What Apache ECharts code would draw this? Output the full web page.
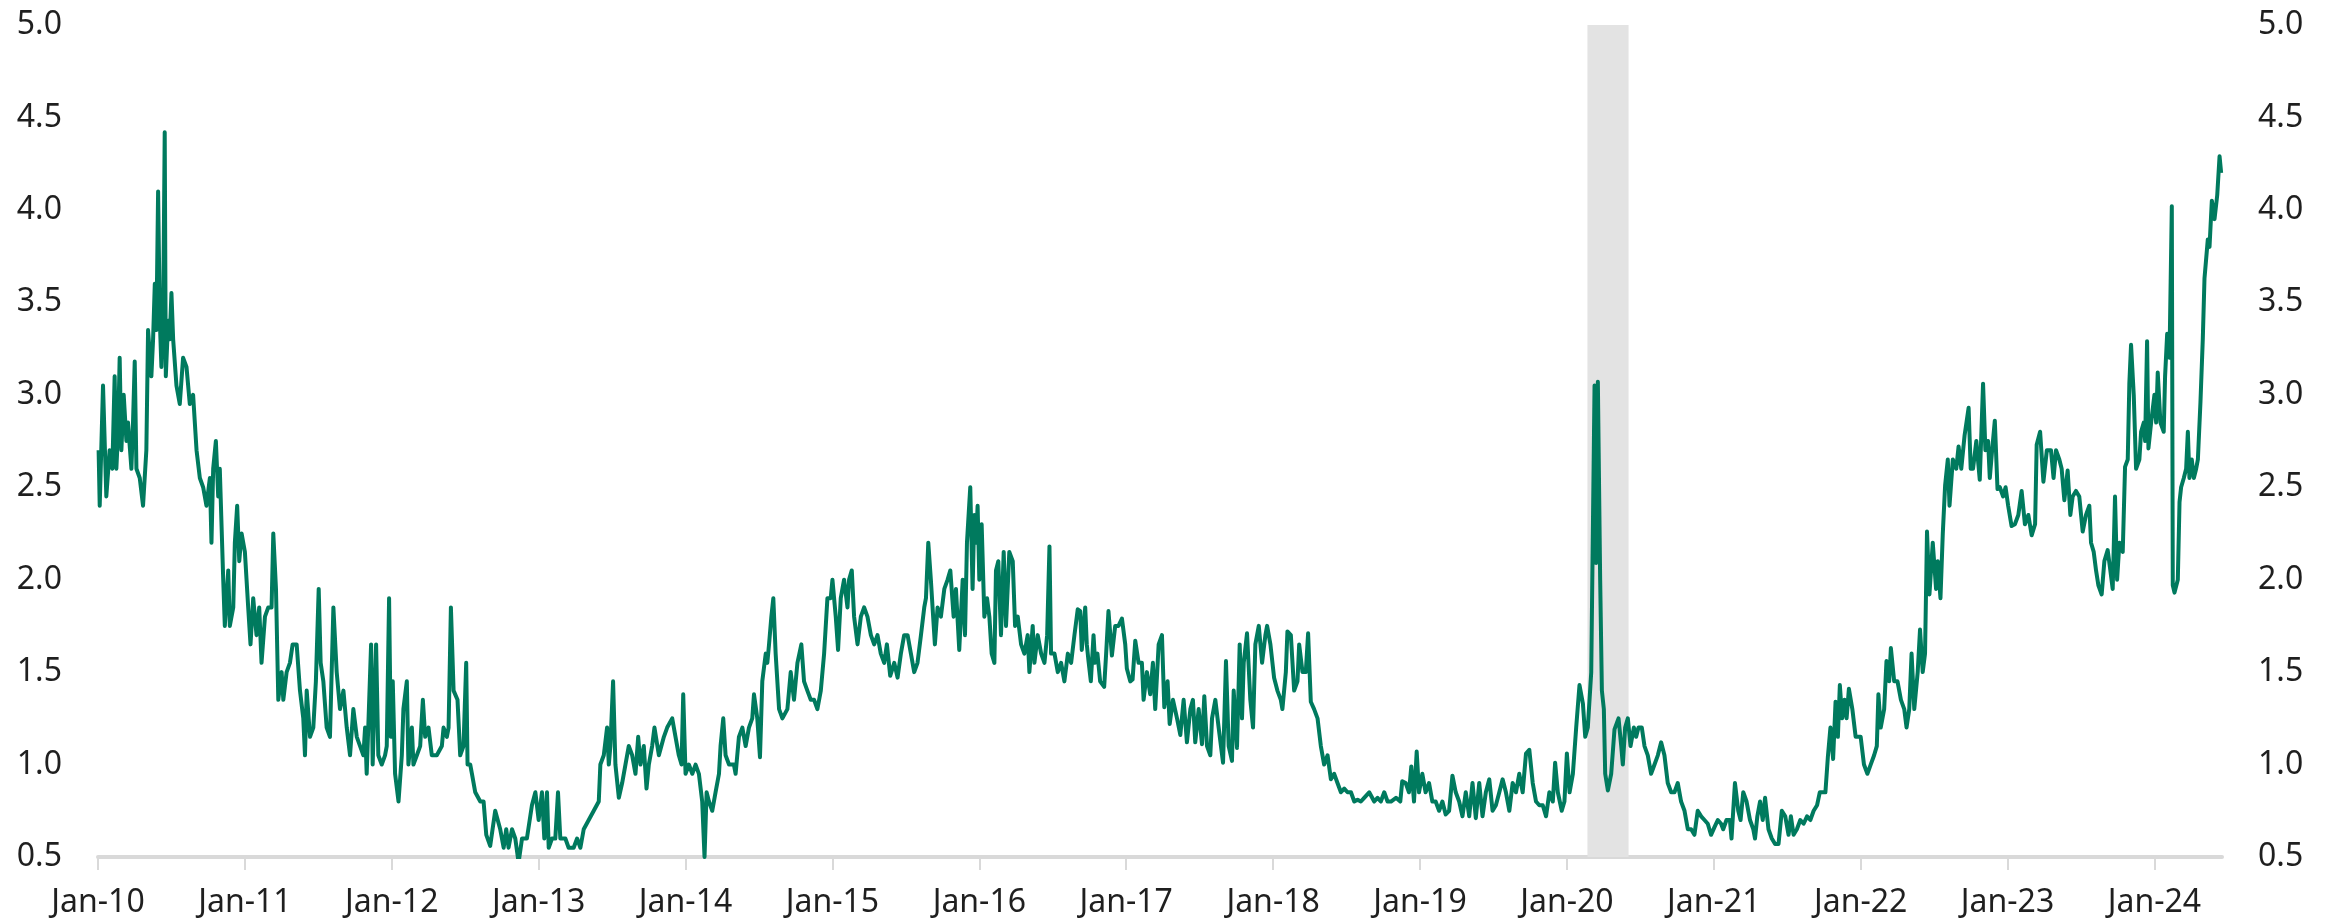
<!DOCTYPE html>
<html>
<head>
<meta charset="utf-8">
<script src="https://cdn.jsdelivr.net/npm/echarts@6/dist/echarts.min.js"></script>
<style>
  html, body { margin: 0; padding: 0; background: #fff; }
  #chart { width: 2331px; height: 923px; }
</style>
</head>
<body>
<div id="chart"></div>
<script>
// x ticks: one per January
const yearTicks = [2010, 2011, 2012, 2013, 2014, 2015, 2016, 2017, 2018, 2019, 2020, 2021, 2022, 2023, 2024];
const yTicks = [0.5, 1.0, 1.5, 2.0, 2.5, 3.0, 3.5, 4.0, 4.5, 5.0];
// shaded period (decimal years)
const recession = [2020.14, 2020.42];

// readings per year as [month offset from January, value]
const d2010 = [[0.05,2.7],[0.14,2.4],[0.41,3.05],[0.68,2.45],[0.95,2.7],[1.17,2.6],[1.36,3.1],[1.5,2.6],[1.64,2.8],[1.77,3.2],[1.91,2.7],[2.1,3.0],[2.32,2.75],[2.45,2.85],[2.73,2.6],[2.86,2.85],[3.0,3.18],[3.14,2.6],[3.41,2.55],[3.68,2.4],[3.95,2.7],[4.09,3.35],[4.36,3.1],[4.5,3.3],[4.64,3.6],[4.77,3.35],[4.91,4.1],[5.05,3.4],[5.18,3.15],[5.32,3.4],[5.45,4.42],[5.54,3.1],[5.73,3.4],[5.86,3.3],[6.0,3.55],[6.14,3.3],[6.41,3.05],[6.68,2.95],[6.95,3.2],[7.23,3.15],[7.5,2.95],[7.77,3.0],[8.05,2.7],[8.32,2.55],[8.59,2.5],[8.86,2.4],[9.14,2.55],[9.27,2.2],[9.41,2.6],[9.63,2.75],[9.82,2.45],[9.95,2.6],[10.23,2.0],[10.36,1.75],[10.64,2.05],[10.77,1.75],[11.05,1.85],[11.18,2.2],[11.37,2.4],[11.54,2.1],[11.73,2.25]];
const d2011 = [[0.0,2.15],[0.27,1.85],[0.46,1.65],[0.68,1.9],[0.95,1.7],[1.17,1.85],[1.36,1.55],[1.64,1.8],[1.91,1.85],[2.18,1.85],[2.32,2.25],[2.54,1.95],[2.73,1.35],[3.0,1.5],[3.14,1.35],[3.41,1.5],[3.68,1.55],[3.9,1.65],[4.23,1.65],[4.5,1.4],[4.77,1.25],[4.91,1.05],[5.05,1.4],[5.32,1.15],[5.59,1.2],[5.8,1.45],[6.03,1.95],[6.19,1.55],[6.41,1.45],[6.68,1.2],[6.95,1.15],[7.23,1.85],[7.5,1.5],[7.77,1.3],[8.05,1.4],[8.32,1.2],[8.59,1.05],[8.86,1.3],[9.14,1.15],[9.41,1.1],[9.68,1.05],[9.82,1.2],[9.95,0.95],[10.31,1.65],[10.44,1.0],[10.72,1.65],[10.9,1.05],[11.18,1.0],[11.45,1.05],[11.59,1.1],[11.78,1.9],[11.92,1.15]];
const d2012 = [[0.08,1.45],[0.27,0.95],[0.55,0.8],[0.82,1.05],[0.95,1.3],[1.23,1.45],[1.36,1.0],[1.64,1.2],[1.77,1.0],[2.05,1.05],[2.32,1.1],[2.54,1.35],[2.73,1.15],[3.0,1.2],[3.27,1.05],[3.68,1.05],[4.09,1.1],[4.23,1.2],[4.5,1.15],[4.64,1.2],[4.83,1.85],[5.05,1.4],[5.37,1.35],[5.59,1.05],[5.86,1.1],[6.08,1.55],[6.19,1.0],[6.41,1.0],[6.55,0.95],[6.82,0.85],[7.23,0.8],[7.5,0.8],[7.72,0.62],[8.04,0.56],[8.45,0.75],[8.86,0.65],[9.14,0.55],[9.35,0.65],[9.54,0.55],[9.82,0.65],[10.09,0.6],[10.36,0.47],[10.64,0.6],[11.04,0.6],[11.45,0.78],[11.73,0.85]];
const d2013 = [[0.0,0.7],[0.27,0.85],[0.46,0.6],[0.68,0.85],[0.82,0.55],[1.09,0.6],[1.36,0.6],[1.58,0.85],[1.77,0.6],[2.18,0.6],[2.45,0.55],[2.86,0.55],[3.14,0.6],[3.41,0.55],[3.68,0.65],[4.09,0.7],[4.5,0.75],[4.91,0.8],[5.04,1.0],[5.32,1.05],[5.59,1.2],[5.73,1.0],[5.86,1.1],[6.08,1.45],[6.27,1.0],[6.55,0.82],[6.82,0.9],[7.09,1.0],[7.36,1.1],[7.64,1.05],[7.91,0.95],[8.13,1.15],[8.32,1.0],[8.59,1.1],[8.81,0.87],[9.0,1.0],[9.27,1.1],[9.46,1.2],[9.82,1.05],[10.23,1.15],[10.5,1.2],[10.91,1.25],[11.18,1.15],[11.45,1.05],[11.67,1.0],[11.81,1.38]];
const d2014 = [[0.0,0.95],[0.27,1.0],[0.55,0.95],[0.82,1.0],[1.09,0.95],[1.36,0.8],[1.55,0.5],[1.72,0.85],[1.91,0.8],[2.18,0.75],[2.45,0.85],[2.73,0.95],[2.86,1.1],[3.08,1.25],[3.27,1.05],[3.55,1.0],[3.95,1.0],[4.09,0.95],[4.36,1.15],[4.64,1.2],[4.91,1.1],[5.18,1.2],[5.45,1.25],[5.59,1.38],[5.86,1.25],[6.08,1.04],[6.27,1.45],[6.55,1.6],[6.68,1.55],[6.82,1.65],[7.01,1.8],[7.17,1.9],[7.36,1.6],[7.64,1.3],[7.91,1.25],[8.32,1.3],[8.59,1.5],[8.86,1.35],[9.14,1.55],[9.46,1.65],[9.68,1.45],[9.95,1.4],[10.23,1.35],[10.5,1.35],[10.77,1.3],[11.05,1.4],[11.32,1.6],[11.59,1.9],[11.86,1.9]];
const d2015 = [[0.0,2.0],[0.27,1.8],[0.46,1.62],[0.68,1.9],[0.95,2.0],[1.23,1.85],[1.36,2.0],[1.58,2.05],[1.77,1.8],[2.05,1.65],[2.32,1.8],[2.59,1.85],[2.86,1.8],[3.14,1.7],[3.41,1.65],[3.68,1.7],[3.95,1.6],[4.23,1.55],[4.45,1.65],[4.72,1.48],[5.05,1.55],[5.32,1.47],[5.59,1.6],[5.86,1.7],[6.14,1.7],[6.41,1.6],[6.68,1.5],[6.95,1.55],[7.23,1.7],[7.5,1.85],[7.64,1.9],[7.83,2.2],[8.04,2.0],[8.18,1.85],[8.37,1.65],[8.59,1.85],[8.86,1.8],[9.14,1.95],[9.41,2.0],[9.63,2.05],[9.9,1.8],[10.09,1.95],[10.36,1.62],[10.64,2.0],[10.83,1.7],[10.99,2.2],[11.26,2.5],[11.45,1.95],[11.59,2.35],[11.73,2.2],[11.86,2.4]];
const d2016 = [[0.0,2.0],[0.19,2.3],[0.41,1.8],[0.63,1.9],[0.82,1.8],[1.01,1.6],[1.23,1.55],[1.36,2.05],[1.55,2.1],[1.77,1.7],[1.99,2.15],[2.18,1.75],[2.45,2.15],[2.73,2.1],[2.92,1.75],[3.14,1.8],[3.41,1.65],[3.68,1.6],[3.95,1.7],[4.09,1.5],[4.36,1.75],[4.5,1.55],[4.77,1.7],[5.05,1.6],[5.32,1.55],[5.54,1.7],[5.73,2.18],[5.86,1.6],[6.14,1.6],[6.41,1.5],[6.68,1.55],[6.95,1.45],[7.23,1.6],[7.5,1.55],[7.77,1.7],[8.04,1.84],[8.24,1.83],[8.37,1.62],[8.65,1.85],[8.78,1.65],[8.92,1.56],[9.11,1.45],[9.33,1.7],[9.46,1.55],[9.65,1.6],[9.87,1.45],[10.2,1.42],[10.36,1.6],[10.55,1.83],[10.83,1.59],[11.1,1.75],[11.37,1.75],[11.65,1.79],[11.92,1.65]];
const d2017 = [[0.05,1.52],[0.33,1.45],[0.52,1.46],[0.74,1.67],[1.01,1.55],[1.28,1.55],[1.42,1.35],[1.69,1.5],[1.96,1.38],[2.18,1.55],[2.37,1.3],[2.65,1.65],[2.92,1.7],[3.11,1.31],[3.38,1.45],[3.55,1.22],[3.82,1.35],[4.15,1.25],[4.42,1.16],[4.69,1.35],[4.96,1.12],[5.24,1.3],[5.45,1.35],[5.64,1.12],[5.92,1.3],[6.19,1.11],[6.38,1.37],[6.6,1.1],[6.87,1.05],[7.01,1.25],[7.28,1.35],[7.55,1.2],[7.91,1.01],[8.15,1.56],[8.37,1.1],[8.64,1.02],[8.78,1.4],[9.05,1.09],[9.27,1.65],[9.46,1.25],[9.6,1.55],[9.87,1.71],[10.14,1.35],[10.36,1.2],[10.55,1.65],[10.83,1.75],[11.1,1.55],[11.37,1.7],[11.51,1.75],[11.78,1.65]];
const d2018 = [[0.08,1.47],[0.35,1.4],[0.63,1.35],[0.76,1.3],[1.04,1.5],[1.17,1.72],[1.45,1.7],[1.72,1.4],[1.99,1.45],[2.13,1.65],[2.4,1.5],[2.67,1.5],[2.86,1.71],[3.08,1.34],[3.35,1.3],[3.63,1.25],[3.9,1.1],[4.17,1.0],[4.45,1.05],[4.72,0.92],[4.99,0.95],[5.26,0.9],[5.54,0.85],[5.81,0.87],[6.08,0.85],[6.36,0.85],[6.63,0.8],[6.9,0.81],[7.17,0.8],[7.44,0.82],[7.85,0.85],[8.26,0.8],[8.53,0.82],[8.8,0.8],[9.08,0.85],[9.35,0.8],[9.63,0.8],[10.04,0.82],[10.39,0.8],[10.55,0.91],[10.83,0.9],[11.1,0.85],[11.29,0.99],[11.51,0.8],[11.73,1.07],[11.92,0.85]];
const d2019 = [[0.19,0.95],[0.46,0.85],[0.74,0.9],[1.01,0.8],[1.28,0.8],[1.56,0.75],[1.83,0.8],[2.1,0.73],[2.38,0.75],[2.65,0.94],[2.92,0.85],[3.2,0.8],[3.47,0.72],[3.74,0.85],[4.02,0.72],[4.29,0.9],[4.56,0.71],[4.84,0.9],[5.11,0.72],[5.38,0.85],[5.66,0.92],[5.93,0.75],[6.2,0.78],[6.48,0.85],[6.75,0.92],[7.02,0.85],[7.3,0.75],[7.57,0.9],[7.84,0.85],[8.11,0.95],[8.39,0.85],[8.66,1.06],[8.93,1.08],[9.21,0.9],[9.48,0.8],[9.75,0.78],[10.03,0.78],[10.3,0.72],[10.57,0.85],[10.85,0.8],[11.04,1.01],[11.26,0.85],[11.58,0.75],[11.8,0.8]];
const d2020 = [[0.0,1.06],[0.22,0.85],[0.49,0.95],[0.76,1.2],[1.03,1.43],[1.31,1.33],[1.5,1.15],[1.71,1.2],[1.99,1.5],[2.12,1.5],[2.26,3.05],[2.39,2.09],[2.53,3.07],[2.72,2.0],[2.86,1.4],[3.02,1.3],[3.13,0.95],[3.35,0.86],[3.62,0.95],[3.89,1.19],[4.03,1.2],[4.22,1.25],[4.44,1.1],[4.57,1.0],[4.76,1.2],[4.98,1.25],[5.2,1.1],[5.47,1.2],[5.66,1.15],[5.85,1.2],[6.12,1.2],[6.34,1.1],[6.61,1.05],[6.88,0.95],[7.16,1.0],[7.43,1.05],[7.7,1.12],[7.97,1.05],[8.24,0.9],[8.52,0.85],[8.79,0.85],[9.06,0.9],[9.33,0.8],[9.61,0.75],[9.88,0.65],[10.15,0.65],[10.42,0.62],[10.69,0.75],[10.97,0.72],[11.24,0.7],[11.51,0.68],[11.78,0.62]];
const d2021 = [[0.05,0.66],[0.33,0.7],[0.6,0.68],[0.77,0.65],[1.04,0.7],[1.32,0.7],[1.45,0.6],[1.73,0.9],[2.0,0.75],[2.19,0.7],[2.41,0.85],[2.68,0.8],[2.96,0.7],[3.23,0.65],[3.37,0.6],[3.56,0.72],[3.78,0.8],[4.0,0.7],[4.19,0.82],[4.47,0.65],[4.74,0.6],[5.01,0.57],[5.29,0.57],[5.56,0.75],[5.84,0.72],[6.11,0.62],[6.3,0.72],[6.52,0.62],[6.79,0.65],[7.07,0.7],[7.34,0.68],[7.62,0.72],[7.89,0.7],[8.16,0.75],[8.44,0.78],[8.66,0.85],[8.85,0.85],[9.12,0.85],[9.32,1.04],[9.53,1.2],[9.75,1.03],[9.95,1.34],[10.14,1.15],[10.3,1.43],[10.49,1.25],[10.68,1.35],[10.85,1.25],[11.04,1.41],[11.32,1.3],[11.59,1.15]];
const d2022 = [[0.0,1.15],[0.27,1.0],[0.55,0.95],[0.82,1.0],[1.1,1.05],[1.32,1.1],[1.45,1.38],[1.64,1.2],[1.92,1.3],[2.11,1.56],[2.33,1.45],[2.47,1.63],[2.74,1.45],[3.01,1.45],[3.29,1.35],[3.56,1.3],[3.75,1.2],[3.97,1.3],[4.16,1.6],[4.38,1.3],[4.66,1.5],[4.85,1.73],[5.07,1.5],[5.26,1.6],[5.42,2.26],[5.62,1.92],[5.89,2.2],[6.16,1.95],[6.3,2.1],[6.52,1.9],[6.71,2.25],[6.9,2.51],[7.12,2.65],[7.26,2.4],[7.53,2.65],[7.81,2.6],[8.0,2.72],[8.22,2.6],[8.49,2.78],[8.82,2.93],[8.99,2.6],[9.18,2.6],[9.45,2.75],[9.73,2.54],[10.0,3.06],[10.19,2.7],[10.41,2.75],[10.55,2.55],[10.74,2.7],[10.96,2.86],[11.18,2.49],[11.37,2.5],[11.64,2.45],[11.84,2.5]];
const d2023 = [[0.05,2.4],[0.33,2.29],[0.6,2.3],[0.88,2.35],[1.15,2.48],[1.42,2.3],[1.7,2.35],[1.97,2.24],[2.25,2.3],[2.38,2.73],[2.66,2.8],[2.93,2.53],[3.21,2.7],[3.55,2.7],[3.76,2.55],[3.96,2.7],[4.23,2.65],[4.42,2.6],[4.64,2.43],[4.91,2.59],[5.13,2.35],[5.32,2.45],[5.59,2.48],[5.86,2.45],[6.14,2.26],[6.41,2.35],[6.68,2.4],[6.82,2.2],[7.04,2.15],[7.23,2.05],[7.42,1.97],[7.69,1.92],[7.91,2.1],[8.18,2.16],[8.4,2.05],[8.59,1.95],[8.78,2.45],[8.95,2.0],[9.14,2.2],[9.41,2.15],[9.6,2.61],[9.82,2.65],[9.95,3.06],[10.09,3.27],[10.31,3.0],[10.5,2.6],[10.77,2.65],[10.91,2.8],[11.13,2.85],[11.24,2.75],[11.4,3.29],[11.51,2.71],[11.73,2.85]];
const d2024 = [[0.0,3.0],[0.14,2.85],[0.27,3.12],[0.49,2.85],[0.76,2.8],[0.87,3.1],[1.04,3.33],[1.23,3.2],[1.42,4.02],[1.5,1.97],[1.64,1.93],[1.91,2.0],[2.05,2.42],[2.18,2.5],[2.4,2.55],[2.59,2.6],[2.73,2.8],[2.86,2.55],[3.05,2.65],[3.22,2.55],[3.41,2.6],[3.55,2.65],[3.76,2.96],[3.95,3.3],[4.09,3.63],[4.36,3.84],[4.5,3.8],[4.69,4.05],[4.91,3.95],[5.13,4.08],[5.32,4.29],[5.45,4.2]];

const byYear = [
  [2010, d2010], [2011, d2011], [2012, d2012], [2013, d2013], [2014, d2014],
  [2015, d2015], [2016, d2016], [2017, d2017], [2018, d2018], [2019, d2019],
  [2020, d2020], [2021, d2021], [2022, d2022], [2023, d2023], [2024, d2024]
];
const points = [];
byYear.forEach(([yr, rows]) => rows.forEach(([m, v]) => points.push([yr + m / 12, v])));

const FONT = '"Noto Sans", "Open Sans", sans-serif';
const TEXT = '#1f1f1f';

const yAxisCommon = {
  type: 'value',
  min: yTicks[0],
  max: yTicks[yTicks.length - 1],
  interval: 0.5,
  axisLine: { show: false },
  axisTick: { show: false },
  splitLine: { show: false },
  axisLabel: {
    fontFamily: FONT, fontSize: 32, color: TEXT, margin: 36,
    formatter: v => v.toFixed(1)
  }
};

const chart = echarts.init(document.getElementById('chart'), null, { renderer: 'canvas' });
chart.setOption({
  animation: false,
  backgroundColor: '#ffffff',
  grid: { left: 98, right: 109, top: 25, bottom: 66, containLabel: false },
  xAxis: {
    type: 'value',
    min: 2010,
    max: 2024.46,
    axisLine: { show: true, lineStyle: { color: '#d9d9d9', width: 4 } },
    axisTick: { show: true, length: 13, customValues: yearTicks, lineStyle: { color: '#d9d9d9', width: 2 } },
    axisLabel: {
      customValues: yearTicks,
      fontFamily: FONT, fontSize: 32, color: TEXT, margin: 30,
      formatter: v => 'Jan-' + String(Math.round(v)).slice(2)
    },
    splitLine: { show: false }
  },
  yAxis: [
    Object.assign({ position: 'left' }, yAxisCommon),
    Object.assign({ position: 'right' }, yAxisCommon)
  ],
  series: [{
    type: 'line',
    data: points,
    showSymbol: false,
    symbol: 'none',
    lineStyle: { color: '#007a5e', width: 4, join: 'round' },
    markArea: {
      silent: true,
      itemStyle: { color: '#e3e3e3' },
      data: [[{ xAxis: recession[0] }, { xAxis: recession[1] }]]
    },
    z: 3
  }]
});
</script>
</body>
</html>
